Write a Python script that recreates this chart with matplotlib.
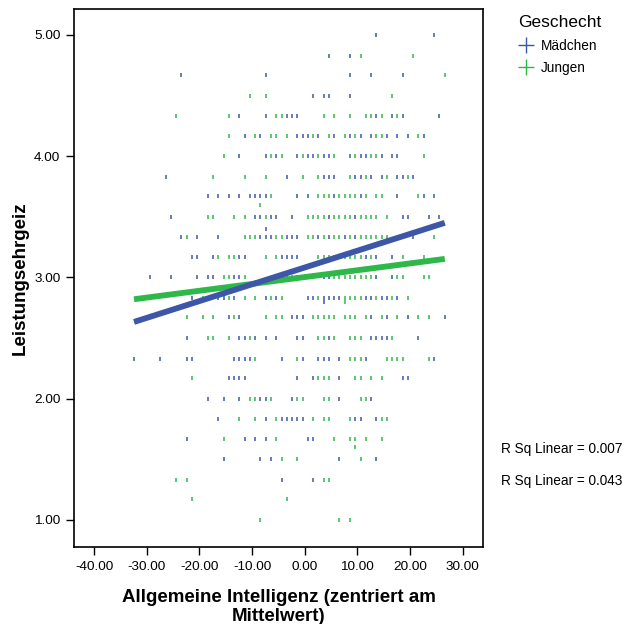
import matplotlib
matplotlib.use("Agg")
import matplotlib.pyplot as plt
from matplotlib.lines import Line2D
import numpy as np

plt.rcParams["font.family"] = ["Liberation Sans", "DejaVu Sans"]

# Leistungsehrgeiz levels (rows of the scatter)
y_levels = [5.00, 4.83, 4.67, 4.50, 4.33, 4.17, 4.00, 3.83, 3.67, 3.50, 3.33, 3.17, 3.00,
            2.83, 2.67, 2.50, 2.33, 2.17, 2.00, 1.83, 1.67, 1.50, 1.33, 1.17, 1.00]

# Intelligenz (zentriert) per row, Mädchen
maedchen_x = [
    [13.6, 24.6],
    [4.6, 8.6],
    [-23.4, -7.4, 8.6, 12.6, 18.6],
    [1.6, 3.6, 4.6, 8.6],
    [-12.4, -7.4, -3.4, -2.4, -1.4, 13.6, 16.6, 18.6, 25.6],
    [-11.4, -8.4, -1.4, -0.4, 0.6, 2.6, 5.6, 8.6, 10.6, 12.6, 15.6, 17.6, 19.6, 22.6],
    [-12.4, -7.4, -5.4, -1.4, 0.6, 1.6, 3.6, 4.6, 8.6, 10.6, 11.6, 14.6, 16.6, 17.6],
    [-26.4, -3.4, 3.6, 4.6, 5.6, 9.6, 10.6, 12.6, 14.6, 17.6, 18.6, 20.6],
    [-18.4, -16.4, -14.4, -12.4, -10.4, -9.4, -8.4, -7.4, -1.4, 0.6, 5.6, 10.6, 17.6, 22.6, 24.6],
    [-25.4, -9.4, -8.4, -6.4, -5.4, -2.4, 4.6, 9.6, 18.6, 19.6, 23.6, 25.6],
    [-23.4, -20.4, -16.4, -8.4, -7.4, -6.4, -3.4, -2.4, -1.4, 2.6, 4.6, 7.6, 9.6, 20.6],
    [-21.4, -20.4, -17.4, -12.4, -11.4, -4.4, -3.4, -2.4, -1.4, 11.6, 13.6, 16.6],
    [-29.4, -25.4, -20.4, -18.4, -17.4, -13.4, -12.4, -4.4, -3.4, -1.4, 0.6, 3.6, 4.6, 13.6, 16.6],
    [-21.4, -16.4, -15.4, -13.4, -7.4, -5.4, 0.6, 1.6, 3.6, 4.6, 5.6, 6.6, 11.6, 12.6, 14.6, 15.6, 17.6],
    [-14.4, -12.4, -2.4, -1.4, -0.4, 12.6, 15.6, 19.6, 26.6],
    [-22.4, -12.4, -11.4, -9.4, -7.4, -5.4, -1.4, -0.4, 4.6, 12.6, 13.6, 14.6, 15.6, 21.6],
    [-32.4, -27.4, -22.4, -21.4, -13.4, -12.4, -11.4, -10.4, -4.4, -0.4, 2.6, 3.6, 4.6, 6.6, 11.6, 24.6],
    [-14.4, -13.4, -12.4, -11.4, -1.4, 1.6, 6.6, 18.6, 19.6],
    [-18.4, -15.4, -12.4, -8.4, -7.4, -2.4, 6.6, 12.6],
    [-16.4, -7.4, -4.4, -3.4, -2.4, -1.4, -0.4, 9.6, 10.6, 13.6],
    [-22.4, -11.4, -9.4, -7.4, 0.6, 1.6],
    [-15.4, -8.4, -6.4, 6.6, 13.6],
    [-4.4, 1.6],
    [],
    [],
]

# Intelligenz (zentriert) per row, Jungen
jungen_x = [
    [],
    [10.6, 20.6],
    [26.6],
    [-10.4, -7.4, 16.6],
    [-24.4, -14.4, -5.4, -4.4, 3.6, 5.6, 8.6, 11.6, 12.6, 14.6, 17.6],
    [-14.4, -9.4, -6.4, -5.4, -3.4, 1.6, 4.6, 7.6, 9.6, 13.6, 14.6, 21.6],
    [-15.4, -6.4, -4.4, -0.4, 2.6, 5.6, 9.6, 12.6, 13.6, 22.6],
    [-17.4, -11.4, -7.4, -0.4, 2.6, 8.6, 11.6, 15.6, 19.6],
    [-6.4, 2.6, 3.6, 4.6, 6.6, 7.6, 8.6, 9.6, 11.6, 13.6, 14.6, 21.6],
    [-18.4, -17.4, -13.4, -11.4, -7.4, 0.6, 1.6, 2.6, 3.6, 5.6, 6.6, 7.6, 8.6, 10.6, 11.6, 12.6, 13.6, 15.6],
    [-22.4, -11.4, -10.4, -9.4, -5.4, -4.4, 0.6, 1.6, 3.6, 5.6, 6.6, 8.6, 10.6, 11.6, 12.6, 13.6, 14.6, 15.6, 24.6],
    [-16.4, -14.4, -13.4, -7.4, -5.4, 2.6, 3.6, 4.6, 5.6, 6.6, 7.6, 8.6, 9.6, 10.6, 12.6, 18.6, 22.6],
    [-15.4, -14.4, -11.4, -2.4, 1.6, 5.6, 6.6, 7.6, 8.6, 9.6, 10.6, 11.6, 12.6, 17.6, 18.6, 22.6, 23.6],
    [-19.4, -14.4, -11.4, -9.4, -6.4, -4.4, 2.6, 7.6, 8.6, 9.6, 10.6, 13.6, 16.6, 19.6],
    [-22.4, -19.4, -17.4, -13.4, -7.4, -5.4, -4.4, 1.6, 2.6, 3.6, 4.6, 5.6, 7.6, 8.6, 9.6, 11.6, 14.6, 17.6, 21.6, 23.6],
    [-18.4, -17.4, -14.4, -10.4, 2.6, 3.6, 5.6, 8.6, 9.6, 10.6, 16.6],
    [-9.4, -1.4, 8.6, 9.6, 10.6, 15.6, 16.6, 17.6, 18.6, 23.6],
    [-21.4, 2.6, 3.6, 4.6, 9.6, 10.6, 12.6, 14.6],
    [-10.4, -9.4, -6.4, -1.4, -0.4, 3.6, 4.6, 10.6, 11.6],
    [-12.4, -9.4, -5.4, 1.6, 3.6, 4.6, 8.6, 14.6, 15.6],
    [-15.4, -5.4, 5.6, 8.6, 9.6, 11.6, 14.6],
    [-4.4, -1.4, 10.6],
    [-24.4, -22.4, 3.6, 4.6],
    [-21.4, -3.4],
    [-8.4, 6.6, 8.6],
]

# points off the regular rows
maedchen_extra_x = [-7.4, 3.6]
maedchen_extra_y = [3.40, 2.80]
jungen_extra_x = [-8.4, 7.6, 9.6]
jungen_extra_y = [3.60, 2.80, 1.60]

# linear fits
fit_x_range = [-32.4, 26.6]
maedchen_fit = [0.01385, 3.082]   # slope, intercept
jungen_fit = [0.00564, 3.003]
r_sq = ["0.007", "0.043"]

x_ticks = [-40, -30, -20, -10, 0, 10, 20, 30]
y_ticks = [1, 2, 3, 4, 5]

BLUE = "#3d56a8"
GREEN = "#2eb84a"


def flatten(rows):
    xs, ys = [], []
    for lvl, row in zip(y_levels, rows):
        xs += row
        ys += [lvl] * len(row)
    return xs, ys


fig = plt.figure(figsize=(6.24, 6.24), dpi=100)
ax = fig.add_axes([74 / 624, 1 - 547 / 624, 409 / 624, 538 / 624])

mx, my = flatten(maedchen_x)
jx, jy = flatten(jungen_x)
mk = dict(marker="|", ls="", markersize=2.5, markeredgewidth=1.1)
ax.plot(mx + maedchen_extra_x, my + maedchen_extra_y, color=BLUE, **mk)
ax.plot(jx + jungen_extra_x, jy + jungen_extra_y, color=GREEN, **mk)

xx = np.array(fit_x_range)
ax.plot(xx, np.polyval(jungen_fit, xx), color=GREEN, lw=4.2, solid_capstyle="butt")
ax.plot(xx, np.polyval(maedchen_fit, xx), color=BLUE, lw=4.2, solid_capstyle="butt")

ax.set_xlim(-43.8, 33.86)
ax.set_ylim(0.777, 5.214)
ax.set_xticks(x_ticks)
ax.set_xticklabels([f"{v:.2f}" for v in x_ticks])
ax.set_yticks(y_ticks)
ax.set_yticklabels([f"{v:.2f}" for v in y_ticks])
ax.tick_params(direction="out", length=5.8, width=1, labelsize=9.7, pad=4)
for s in ax.spines.values():
    s.set_linewidth(1.2)

ax.set_xlabel("Allgemeine Intelligenz (zentriert am\nMittelwert)", fontsize=13.5,
              fontweight="bold", linespacing=1.1, labelpad=12)
ax.set_ylabel("Leistungsehrgeiz", fontsize=13.5, fontweight="bold", labelpad=4)

handles = [Line2D([], [], marker="+", ls="", color=BLUE, markersize=12, markeredgewidth=1),
           Line2D([], [], marker="+", ls="", color=GREEN, markersize=12, markeredgewidth=1)]
leg = fig.legend(handles, ["Mädchen", "Jungen"], title="Geschecht", loc="upper left",
                 bbox_to_anchor=(506 / 624, 1 - 3 / 624), frameon=False, fontsize=9.8,
                 title_fontsize=12.5, handlelength=1.2, handletextpad=0.45,
                 labelspacing=0.62, alignment="left")

fig.text(501 / 624, 1 - 449 / 624, f"R Sq Linear = {r_sq[0]}", fontsize=9.8, va="center")
fig.text(501 / 624, 1 - 481 / 624, f"R Sq Linear = {r_sq[1]}", fontsize=9.8, va="center")

fig.savefig("out.png", dpi=100)
